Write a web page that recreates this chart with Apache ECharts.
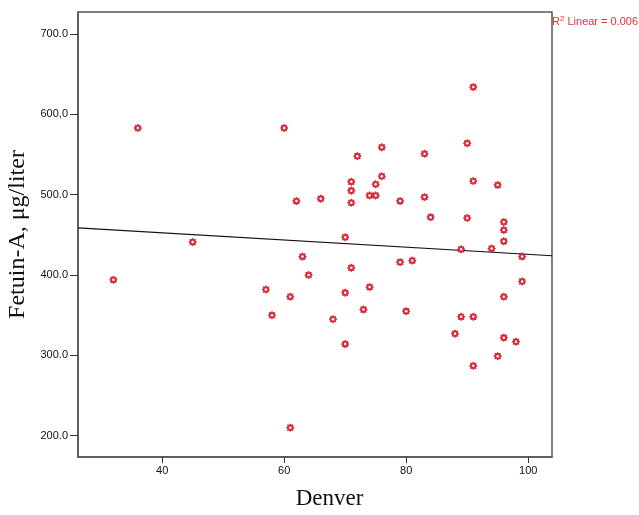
<!DOCTYPE html>
<html>
<head>
<meta charset="utf-8">
<script src="https://cdn.jsdelivr.net/npm/echarts@6/dist/echarts.min.js"></script>
<style>
  html, body { margin: 0; padding: 0; background: #fff; }
  #chart { width: 639px; height: 515px; }
</style>
</head>
<body>
<div id="chart"></div>
<script>
// Denver (x) vs Fetuin-A (y)
const denver = [36, 60, 62, 45, 63, 32, 57, 58, 61, 64, 61, 91, 76, 72, 83, 90, 76, 71, 75, 71,
  91, 95, 66, 74, 75, 71, 79, 83, 84, 90, 96, 96, 96, 70, 89, 94, 99, 79, 81, 71,
  70, 74, 73, 80, 68, 70, 89, 91, 88, 96, 99, 96, 98, 95, 91];
const fetuin = [583, 583, 492, 441, 423, 394, 382, 350, 373, 400, 210, 634, 559, 548, 551, 564, 523, 516, 513, 505,
  517, 512, 495, 499, 499, 490, 492, 497, 472, 471, 466, 456, 442, 447, 432, 433, 423, 416, 418, 409,
  378, 385, 357, 355, 345, 314, 348, 348, 327, 373, 392, 322, 317, 299, 287];

// linear fit line, ends at the plot edges
const fitX = [26.2, 103.9];
const fitY = [458.8, 424.0];

const xTicks = [40, 60, 80, 100];
const yTicks = [200, 300, 400, 500, 600, 700];
const yTickLabels = ["200.0", "300.0", "400.0", "500.0", "600,0", "700.0"];

// small 8-point "flower" marker like the SPSS one
function flowerPath() {
  let d = "";
  const n = 16;
  for (let i = 0; i < n; i++) {
    const r = i % 2 === 0 ? 10 : 7;
    const a = (Math.PI * 2 * i) / n - Math.PI / 2;
    const px = (10 + r * Math.cos(a)).toFixed(2);
    const py = (10 + r * Math.sin(a)).toFixed(2);
    d += (i === 0 ? "M" : "L") + px + " " + py + " ";
  }
  return "path://" + d + "Z";
}

const points = denver.map((x, i) => [x, fetuin[i]]);
const fitLine = fitX.map((x, i) => [x, fitY[i]]);

const chart = echarts.init(document.getElementById("chart"));

chart.setOption({
  animation: false,
  title: {
    left: 552,
    top: 15,
    padding: 0,
    text: "{a|R}{s|2}{a| Linear = 0.006}",
    textStyle: {
      fontWeight: "normal",
      rich: {
        a: { fontFamily: "Liberation Sans", fontSize: 11, fontWeight: "normal", color: "#e8303a" },
        s: { fontFamily: "Liberation Sans", fontSize: 8, fontWeight: "normal", color: "#e8303a", verticalAlign: "top", padding: [0, 0, 5, 0] }
      }
    }
  },
  grid: {
    left: 78,
    right: 87,
    top: 12,
    bottom: 58,
    containLabel: false,
    outerBoundsMode: "none",
    show: true,
    borderColor: "#555",
    borderWidth: 1.5
  },
  xAxis: {
    type: "value",
    min: 26.2,
    max: 103.9,
    name: "Denver",
    nameLocation: "middle",
    nameGap: 30,
    nameTextStyle: {
      fontFamily: "Liberation Serif",
      fontSize: 23,
      color: "#111",
      padding: [0, 0, 0, 29]
    },
    axisLine: { lineStyle: { color: "#555", width: 1.5 } },
    axisTick: { customValues: xTicks, length: 6, lineStyle: { color: "#333" } },
    axisLabel: {
      customValues: xTicks,
      margin: 8,
      fontFamily: "Liberation Sans",
      fontSize: 11,
      color: "#111"
    },
    splitLine: { show: false }
  },
  yAxis: {
    type: "value",
    min: 173.5,
    max: 727.4,
    name: "Fetuin-A, μg/liter",
    nameLocation: "middle",
    nameGap: 46,
    nameTextStyle: {
      fontFamily: "Liberation Serif",
      fontSize: 24,
      color: "#111"
    },
    axisLine: { lineStyle: { color: "#555", width: 1.5 } },
    axisTick: { customValues: yTicks, length: 8, lineStyle: { color: "#333" } },
    axisLabel: {
      customValues: yTicks,
      margin: 10,
      fontFamily: "Liberation Sans",
      fontSize: 11,
      color: "#111",
      formatter: (v) => yTickLabels[yTicks.indexOf(v)]
    },
    splitLine: { show: false }
  },
  series: [
    {
      type: "line",
      data: fitLine,
      symbol: "none",
      lineStyle: { color: "#111", width: 1.2 },
      z: 1
    },
    {
      type: "scatter",
      data: points,
      symbol: flowerPath(),
      symbolSize: 8,
      itemStyle: { color: "#e3263a", borderColor: "#a8101e", borderWidth: 0.5, opacity: 1 },
      z: 2
    },
    {
      type: "scatter",
      data: points,
      symbol: "circle",
      symbolSize: 2.5,
      itemStyle: { color: "#fff", opacity: 1 },
      silent: true,
      z: 3
    }
  ]
});
</script>
</body>
</html>
